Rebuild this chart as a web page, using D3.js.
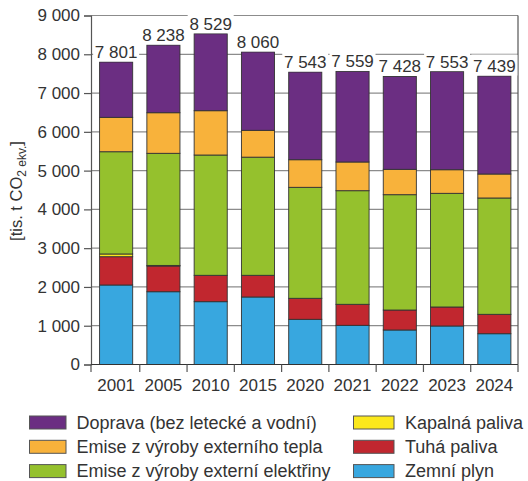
<!DOCTYPE html>
<html>
<head>
<meta charset="utf-8">
<script src="https://cdn.jsdelivr.net/npm/d3@7"></script>
<style>
  body { margin: 0; background: #fff; }
  svg text { font-family: "Liberation Sans", Arial, sans-serif; fill: #333; }
</style>
</head>
<body>
<svg id="chart" width="528" height="481"></svg>
<script>
const years = ["2001", "2005", "2010", "2015", "2020", "2021", "2022", "2023", "2024"];
// stacked from bottom to top
const zemni_plyn = [2050, 1877, 1620, 1741, 1165, 1010, 890, 993, 794];
const tuha_paliva = [730, 663, 680, 559, 542, 542, 515, 490, 500];
const kapalna_paliva = [70, 15, 0, 0, 0, 0, 0, 0, 0];
const elektrina = [2637, 2891, 3102, 3047, 2862, 2930, 2974, 2931, 3000];
const teplo = [887, 1047, 1143, 692, 712, 740, 654, 609, 618];
const doprava = [1427, 1745, 1984, 2021, 2262, 2337, 2395, 2530, 2527];
const y_ticks = [0, 1000, 2000, 3000, 4000, 5000, 6000, 7000, 8000, 9000];

const series = [
  {key: "zemni", name: "Zemní plyn", color: "#38a7df", values: zemni_plyn},
  {key: "tuha", name: "Tuhá paliva", color: "#c1272f", values: tuha_paliva},
  {key: "kapalna", name: "Kapalná paliva", color: "#fbe81c", values: kapalna_paliva},
  {key: "elektrina", name: "Emise z výroby externí elektřiny", color: "#95c12d", values: elektrina},
  {key: "teplo", name: "Emise z výroby externího tepla", color: "#f8b23b", values: teplo},
  {key: "doprava", name: "Doprava (bez letecké a vodní)", color: "#6b2e82", values: doprava}
];

const rows = years.map((y, i) => {
  const r = {year: y};
  series.forEach(s => r[s.key] = s.values[i]);
  return r;
});

const fmt = v => d3.format(",")(v).replace(/,/g, " ");

const svg = d3.select("#chart");
const LEFT = 91, RIGHT = 518, TOP = 15.5, BOTTOM = 364.5;

const x = d3.scaleBand().domain(years).range([LEFT + 1.5, RIGHT]).paddingInner(0.3).paddingOuter(0.15);
const y = d3.scaleLinear().domain([0, 9000]).range([BOTTOM, TOP]);

const stack = d3.stack().keys(series.map(s => s.key));
const stacked = stack(rows);

// grid
svg.append("g")
  .selectAll("line")
  .data(y_ticks.filter(d => d > 0))
  .join("line")
    .attr("x1", LEFT).attr("x2", RIGHT)
    .attr("y1", d => y(d)).attr("y2", d => y(d))
    .attr("stroke", "#8c8c8c").attr("stroke-width", 1.2);

// right frame
svg.append("line")
  .attr("x1", RIGHT).attr("x2", RIGHT).attr("y1", TOP).attr("y2", BOTTOM)
  .attr("stroke", "#555").attr("stroke-width", 1.2);

// bars
svg.append("g")
  .selectAll("g")
  .data(stacked)
  .join("g")
    .attr("fill", (d, i) => series[i].color)
  .selectAll("rect")
  .data(d => d)
  .join("rect")
    .attr("x", d => x(d.data.year))
    .attr("width", x.bandwidth())
    .attr("y", d => y(d[1]))
    .attr("height", d => y(d[0]) - y(d[1]))
    .attr("stroke", "#333").attr("stroke-width", 0.9);

// total labels with white background
const totals = rows.map(r => ({year: r.year, total: d3.sum(series, s => r[s.key])}));
const labels = svg.append("g").selectAll("g").data(totals).join("g");
labels.append("rect")
  .attr("x", d => x(d.year) + x.bandwidth() / 2 - 23)
  .attr("width", 46)
  .attr("y", d => y(d.total) - 4 - 17.5)
  .attr("height", 17.5 + 3.5)
  .attr("fill", "#fff");
labels.append("text")
  .attr("x", d => x(d.year) + x.bandwidth() / 2)
  .attr("y", d => y(d.total) - 4)
  .attr("text-anchor", "middle")
  .attr("font-size", 17)
  .text(d => fmt(d.total));

// y axis
const yAxis = svg.append("g")
  .attr("transform", "translate(" + LEFT + ",0)")
  .call(d3.axisLeft(y).tickValues(y_ticks).tickSize(7).tickPadding(4).tickFormat(fmt));
yAxis.select(".domain").attr("stroke", "#555").attr("stroke-width", 1.2);
yAxis.selectAll(".tick line").attr("stroke", "#555").attr("stroke-width", 1.2);
yAxis.selectAll(".tick text").attr("font-size", 17).attr("fill", "#333")
  .style("font-family", "Liberation Sans, Arial, sans-serif");

// x axis
const step = x.step();
const boundaries = d3.range(years.length + 1).map(i =>
  i === 0 ? LEFT : (i === years.length ? RIGHT : x(years[i]) - (step - x.bandwidth()) / 2));
const xg = svg.append("g");
xg.append("line")
  .attr("x1", LEFT).attr("x2", RIGHT).attr("y1", BOTTOM).attr("y2", BOTTOM)
  .attr("stroke", "#333").attr("stroke-width", 1.2);
xg.selectAll("line.tk")
  .data(boundaries)
  .join("line")
    .attr("class", "tk")
    .attr("x1", d => d).attr("x2", d => d)
    .attr("y1", BOTTOM).attr("y2", BOTTOM + 7.5)
    .attr("stroke", "#555").attr("stroke-width", 1.2);
xg.selectAll("text")
  .data(years)
  .join("text")
    .attr("x", d => x(d) + x.bandwidth() / 2)
    .attr("y", 390.5)
    .attr("text-anchor", "middle")
    .attr("font-size", 17)
    .text(d => d);

// y axis title
const yt = svg.append("text")
  .attr("transform", "translate(22,191) rotate(-90)")
  .attr("text-anchor", "middle")
  .attr("font-size", 16.5);
yt.append("tspan").text("[tis. t CO");
yt.append("tspan").attr("font-size", 12).attr("dy", 4).text("2 ekv.");
yt.append("tspan").attr("dy", -4).text("]");

// legend
const legend_order = [
  ["doprava", "kapalna"],
  ["teplo", "tuha"],
  ["elektrina", "zemni"]
];
const col_x = [[29.5, 36.5, 76.5], [353.5, 40.5, 405]];
legend_order.forEach((row, ri) => {
  row.forEach((key, ci) => {
    const s = series.find(t => t.key === key);
    const cy = 422.5 + ri * 24.3;
    const g = svg.append("g");
    g.append("rect")
      .attr("x", col_x[ci][0]).attr("y", cy - 6.5)
      .attr("width", col_x[ci][1]).attr("height", 13)
      .attr("fill", s.color).attr("stroke", "#555").attr("stroke-width", 1);
    g.append("text")
      .attr("x", col_x[ci][2]).attr("y", cy + 6.3)
      .attr("font-size", 18)
      .text(s.name);
  });
});
</script>
</body>
</html>
